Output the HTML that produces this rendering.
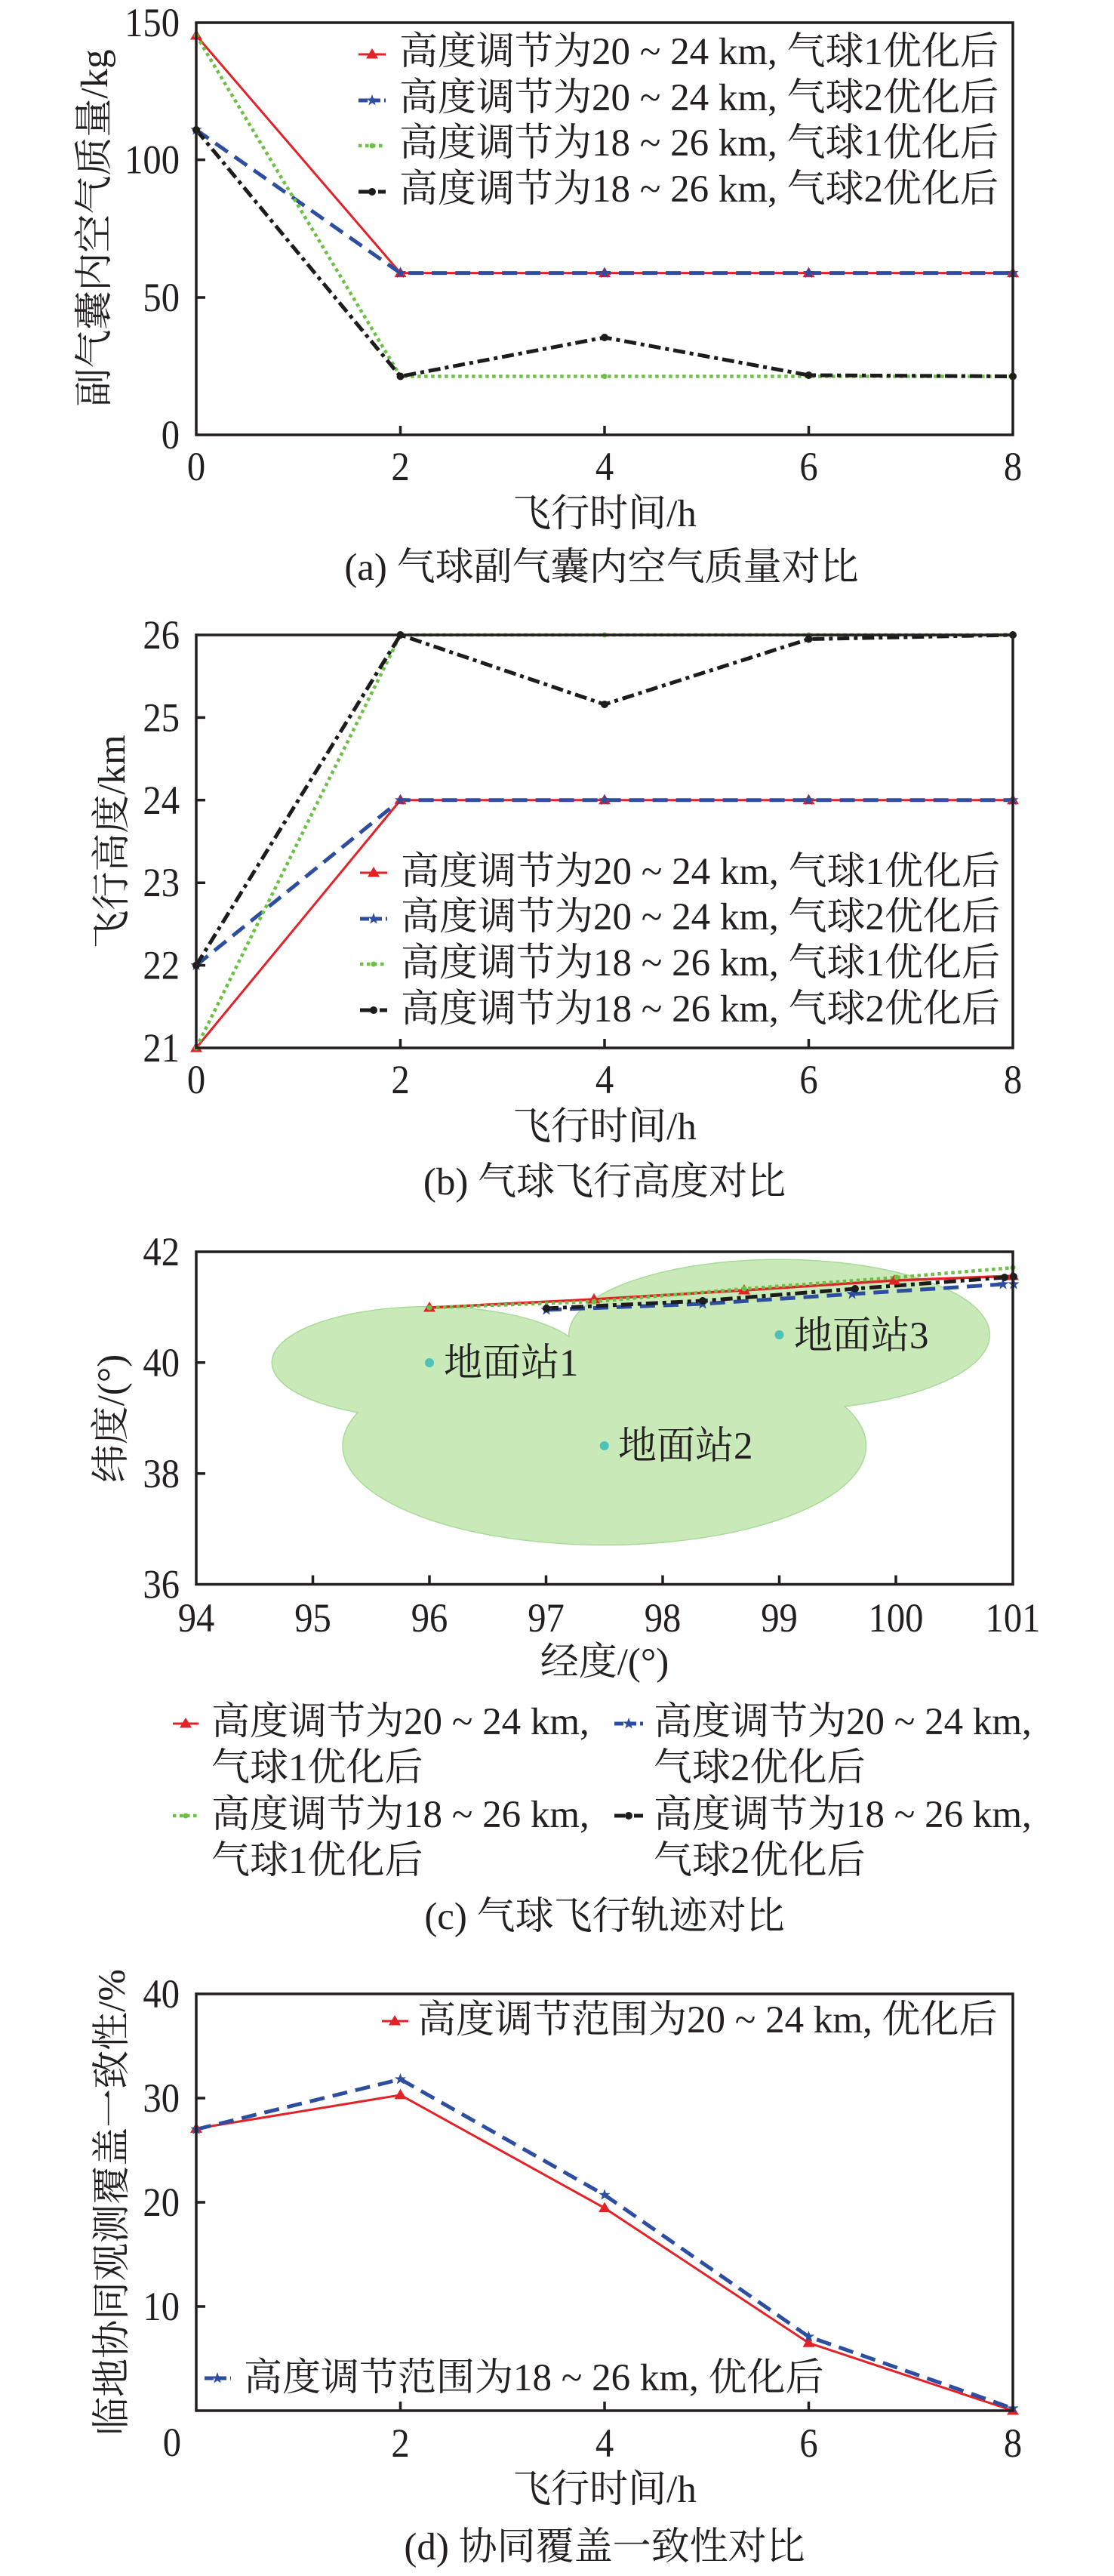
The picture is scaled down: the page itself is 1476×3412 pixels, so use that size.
<!DOCTYPE html>
<html><head><meta charset="utf-8">
<style>
html,body{margin:0;padding:0;background:#fff;}
svg{display:block;}
text{font-family:"Liberation Serif","Noto Serif CJK SC",serif;font-size:51px;fill:#231f20;}
.tk{font-size:54px;}
</style></head>
<body>
<svg width="1476" height="3412" viewBox="0 0 1476 3412" xmlns="http://www.w3.org/2000/svg">
<defs>
<polygon id="tri" points="0,-8 8,5.5 -8,5.5" fill="#e32228"/>
<polygon id="star" points="0,-8 1.88,-2.59 7.61,-2.47 3.04,0.99 4.70,6.47 0,3.2 -4.70,6.47 -3.04,0.99 -7.61,-2.47 -1.88,-2.59" fill="#2d4da0"/>
<circle id="dot" r="5" fill="#1c1c1c"/>
<circle id="gdot" r="3.5" fill="#6dbf45"/>
</defs>

<!-- ================= (a) ================= -->
<g>
<polyline points="260,47 530.5,361.6 801,361.6 1071.5,361.6 1342,361.6" fill="none" stroke="#e32228" stroke-width="3"/>
<polyline points="260,172 530.5,361.6 801,361.6 1071.5,361.6 1342,361.6" fill="none" stroke="#2d4da0" stroke-width="5" stroke-dasharray="20 11"/>
<polyline points="260,47 530.5,498.5 801,498.5 1071.5,498.5 1342,498.5" fill="none" stroke="#6dbf45" stroke-width="4.5" stroke-dasharray="4.5 4.5"/>
<polyline points="260,172 530.5,498.5 801,447 1071.5,497 1342,498.5" fill="none" stroke="#1c1c1c" stroke-width="5" stroke-dasharray="16 6 5 6"/>
<use href="#tri" x="260" y="47"/><use href="#tri" x="530.5" y="361.6"/><use href="#tri" x="801" y="361.6"/><use href="#tri" x="1071.5" y="361.6"/><use href="#tri" x="1342" y="361.6"/>
<use href="#star" x="260" y="172"/><use href="#star" x="530.5" y="361.6"/><use href="#star" x="801" y="361.6"/><use href="#star" x="1071.5" y="361.6"/><use href="#star" x="1342" y="361.6"/>
<use href="#gdot" x="260" y="47"/><use href="#gdot" x="530.5" y="498.5"/><use href="#gdot" x="801" y="498.5"/><use href="#gdot" x="1071.5" y="498.5"/><use href="#gdot" x="1342" y="498.5"/>
<use href="#dot" x="260" y="172"/><use href="#dot" x="530.5" y="498.5"/><use href="#dot" x="801" y="447"/><use href="#dot" x="1071.5" y="497"/><use href="#dot" x="1342" y="498.5"/>
<rect x="260" y="30" width="1082" height="546" fill="none" stroke="#231f20" stroke-width="3.5"/>
<path d="M260,211.6h12M260,394h12M530.5,576v-12M801,576v-12M1071.5,576v-12" stroke="#231f20" stroke-width="3.5"/>
<g text-anchor="end">
<text class="tk" transform="translate(238,48) scale(0.9,1)">150</text>
<text class="tk" transform="translate(238,229.6) scale(0.9,1)">100</text>
<text class="tk" transform="translate(238,412) scale(0.9,1)">50</text>
<text class="tk" transform="translate(238,594) scale(0.9,1)">0</text>
</g>
<g text-anchor="middle">
<text class="tk" transform="translate(260,636) scale(0.9,1)">0</text>
<text class="tk" transform="translate(530.5,636) scale(0.9,1)">2</text>
<text class="tk" transform="translate(801,636) scale(0.9,1)">4</text>
<text class="tk" transform="translate(1071.5,636) scale(0.9,1)">6</text>
<text class="tk" transform="translate(1342,636) scale(0.9,1)">8</text>
<text x="801" y="697">飞行时间/h</text>
<text x="797" y="768">(a) 气球副气囊内空气质量对比</text>
<text transform="translate(142,302) rotate(-90)">副气囊内空气质量/kg</text>
</g>
<!-- legend -->
<line x1="475" y1="72" x2="511" y2="72" stroke="#e32228" stroke-width="3"/><use href="#tri" x="493" y="72"/>
<line x1="475" y1="133" x2="511" y2="133" stroke="#2d4da0" stroke-width="5" stroke-dasharray="12 5"/><use href="#star" x="493" y="133"/>
<line x1="475" y1="193" x2="511" y2="193" stroke="#6dbf45" stroke-width="4.5" stroke-dasharray="4.5 4.5"/><use href="#gdot" x="493" y="193"/>
<line x1="475" y1="254" x2="511" y2="254" stroke="#1c1c1c" stroke-width="5" stroke-dasharray="14 4 4 4"/><use href="#dot" x="493" y="254"/>
<text x="529" y="85">高度调节为20 ~ 24 km, 气球1优化后</text>
<text x="529" y="146">高度调节为20 ~ 24 km, 气球2优化后</text>
<text x="529" y="206">高度调节为18 ~ 26 km, 气球1优化后</text>
<text x="529" y="267">高度调节为18 ~ 26 km, 气球2优化后</text>
</g>

<!-- ================= (b) ================= -->
<g>
<polyline points="260,1388 530.5,1059.8 801,1059.8 1071.5,1059.8 1342,1059.8" fill="none" stroke="#e32228" stroke-width="3"/>
<polyline points="260,1278.6 530.5,1059.8 801,1059.8 1071.5,1059.8 1342,1059.8" fill="none" stroke="#2d4da0" stroke-width="5" stroke-dasharray="20 11"/>
<polyline points="260,1388 530.5,841 801,841 1071.5,841 1342,841" fill="none" stroke="#6dbf45" stroke-width="4.5" stroke-dasharray="4.5 4.5"/>
<polyline points="260,1278.6 530.5,841 801,933 1071.5,846.5 1342,841" fill="none" stroke="#1c1c1c" stroke-width="5" stroke-dasharray="16 6 5 6"/>
<use href="#tri" x="260" y="1388"/><use href="#tri" x="530.5" y="1059.8"/><use href="#tri" x="801" y="1059.8"/><use href="#tri" x="1071.5" y="1059.8"/><use href="#tri" x="1342" y="1059.8"/>
<use href="#star" x="260" y="1278.6"/><use href="#star" x="530.5" y="1059.8"/><use href="#star" x="801" y="1059.8"/><use href="#star" x="1071.5" y="1059.8"/><use href="#star" x="1342" y="1059.8"/>
<use href="#gdot" x="260" y="1388"/><use href="#gdot" x="530.5" y="841"/><use href="#gdot" x="801" y="841"/><use href="#gdot" x="1071.5" y="841"/><use href="#gdot" x="1342" y="841"/>
<use href="#dot" x="260" y="1278.6"/><use href="#dot" x="530.5" y="841"/><use href="#dot" x="801" y="933"/><use href="#dot" x="1071.5" y="846.5"/><use href="#dot" x="1342" y="841"/>
<rect x="260" y="841" width="1082" height="547" fill="none" stroke="#231f20" stroke-width="3.5"/>
<path d="M260,1278.6h12M260,1169.2h12M260,1059.8h12M260,950.4h12M530.5,1388v-12M801,1388v-12M1071.5,1388v-12" stroke="#231f20" stroke-width="3.5"/>
<g text-anchor="end">
<text class="tk" transform="translate(238,859) scale(0.9,1)">26</text>
<text class="tk" transform="translate(238,968.4) scale(0.9,1)">25</text>
<text class="tk" transform="translate(238,1077.8) scale(0.9,1)">24</text>
<text class="tk" transform="translate(238,1187.2) scale(0.9,1)">23</text>
<text class="tk" transform="translate(238,1296.6) scale(0.9,1)">22</text>
<text class="tk" transform="translate(238,1406) scale(0.9,1)">21</text>
</g>
<g text-anchor="middle">
<text class="tk" transform="translate(260,1448) scale(0.9,1)">0</text>
<text class="tk" transform="translate(530.5,1448) scale(0.9,1)">2</text>
<text class="tk" transform="translate(801,1448) scale(0.9,1)">4</text>
<text class="tk" transform="translate(1071.5,1448) scale(0.9,1)">6</text>
<text class="tk" transform="translate(1342,1448) scale(0.9,1)">8</text>
<text x="801" y="1509">飞行时间/h</text>
<text x="801" y="1582">(b) 气球飞行高度对比</text>
<text transform="translate(165,1115) rotate(-90)">飞行高度/km</text>
</g>
<line x1="477" y1="1156" x2="513" y2="1156" stroke="#e32228" stroke-width="3"/><use href="#tri" x="495" y="1156"/>
<line x1="477" y1="1217" x2="513" y2="1217" stroke="#2d4da0" stroke-width="5" stroke-dasharray="12 5"/><use href="#star" x="495" y="1217"/>
<line x1="477" y1="1277" x2="513" y2="1277" stroke="#6dbf45" stroke-width="4.5" stroke-dasharray="4.5 4.5"/><use href="#gdot" x="495" y="1277"/>
<line x1="477" y1="1338" x2="513" y2="1338" stroke="#1c1c1c" stroke-width="5" stroke-dasharray="14 4 4 4"/><use href="#dot" x="495" y="1338"/>
<text x="531" y="1171">高度调节为20 ~ 24 km, 气球1优化后</text>
<text x="531" y="1231">高度调节为20 ~ 24 km, 气球2优化后</text>
<text x="531" y="1292">高度调节为18 ~ 26 km, 气球1优化后</text>
<text x="531" y="1353">高度调节为18 ~ 26 km, 气球2优化后</text>
</g>

<!-- ================= (c) ================= -->
<g>
<g stroke="#a8db98" stroke-width="3" fill="none">
<ellipse cx="569" cy="1804.8" rx="208" ry="73.4"/>
<ellipse cx="800.75" cy="1915" rx="346" ry="130.6"/>
<ellipse cx="1032.5" cy="1768" rx="278" ry="99"/>
</g>
<g fill="#c9e9b9">
<ellipse cx="569" cy="1804.8" rx="208" ry="73.4"/>
<ellipse cx="800.75" cy="1915" rx="346" ry="130.6"/>
<ellipse cx="1032.5" cy="1768" rx="278" ry="99"/>
</g>
<circle cx="569" cy="1805" r="6" fill="#4ec2b8"/>
<circle cx="800.75" cy="1915" r="6" fill="#4ec2b8"/>
<circle cx="1032.5" cy="1768" r="6" fill="#4ec2b8"/>
<text x="588" y="1822">地面站1</text>
<text x="819" y="1932">地面站2</text>
<text x="1052" y="1786">地面站3</text>
<polyline points="569,1732 787,1721 986,1709 1185,1696 1342,1690" fill="none" stroke="#e32228" stroke-width="3.5"/>
<polyline points="724,1735 931,1727 1129,1714 1329,1701 1343,1701" fill="none" stroke="#2d4da0" stroke-width="5" stroke-dasharray="20 11"/>
<polyline points="569,1732 787,1724 986,1707 1188,1692 1342,1679" fill="none" stroke="#6dbf45" stroke-width="4.5" stroke-dasharray="4.5 4.5"/>
<polyline points="724,1733 931,1723 1133,1707 1331,1692 1343,1691" fill="none" stroke="#1c1c1c" stroke-width="5" stroke-dasharray="16 6 5 6"/>
<use href="#tri" x="569" y="1732"/><use href="#tri" x="787" y="1721"/><use href="#tri" x="986" y="1709"/><use href="#tri" x="1185" y="1696"/><use href="#tri" x="1342" y="1690"/>
<use href="#star" x="724" y="1735"/><use href="#star" x="931" y="1727"/><use href="#star" x="1129" y="1714"/><use href="#star" x="1329" y="1701"/><use href="#star" x="1343" y="1701"/>
<use href="#gdot" x="569" y="1732"/><use href="#gdot" x="787" y="1724"/><use href="#gdot" x="986" y="1707"/><use href="#gdot" x="1188" y="1692"/><use href="#gdot" x="1342" y="1679"/>
<use href="#dot" x="724" y="1733"/><use href="#dot" x="931" y="1723"/><use href="#dot" x="1133" y="1707"/><use href="#dot" x="1331" y="1692"/><use href="#dot" x="1343" y="1691"/>
<rect x="260" y="1658" width="1082" height="440.5" fill="none" stroke="#231f20" stroke-width="3.5"/>
<path d="M260,1951.7h12M260,1804.8h12M414.5,2098.5v-12M569,2098.5v-12M723.5,2098.5v-12M878,2098.5v-12M1032.5,2098.5v-12M1187,2098.5v-12" stroke="#231f20" stroke-width="3.5"/>
<g text-anchor="end">
<text class="tk" transform="translate(238,1676) scale(0.9,1)">42</text>
<text class="tk" transform="translate(238,1823) scale(0.9,1)">40</text>
<text class="tk" transform="translate(238,1970) scale(0.9,1)">38</text>
<text class="tk" transform="translate(238,2116.5) scale(0.9,1)">36</text>
</g>
<g text-anchor="middle">
<text class="tk" transform="translate(260,2161) scale(0.9,1)">94</text>
<text class="tk" transform="translate(414.5,2161) scale(0.9,1)">95</text>
<text class="tk" transform="translate(569,2161) scale(0.9,1)">96</text>
<text class="tk" transform="translate(723.5,2161) scale(0.9,1)">97</text>
<text class="tk" transform="translate(878,2161) scale(0.9,1)">98</text>
<text class="tk" transform="translate(1032.5,2161) scale(0.9,1)">99</text>
<text class="tk" transform="translate(1187,2161) scale(0.9,1)">100</text>
<text class="tk" transform="translate(1342,2161) scale(0.9,1)">101</text>
<text x="801" y="2218">经度/(°)</text>
<text x="801" y="2555">(c) 气球飞行轨迹对比</text>
<text transform="translate(164,1879) rotate(-90)">纬度/(°)</text>
</g>
<line x1="229" y1="2283" x2="263" y2="2283" stroke="#e32228" stroke-width="3"/><use href="#tri" x="246" y="2283"/>
<line x1="814" y1="2283" x2="852" y2="2283" stroke="#2d4da0" stroke-width="5" stroke-dasharray="12 5"/><use href="#star" x="833" y="2283"/>
<line x1="229" y1="2405" x2="263" y2="2405" stroke="#6dbf45" stroke-width="4.5" stroke-dasharray="4.5 4.5"/><use href="#gdot" x="246" y="2405"/>
<line x1="814" y1="2405" x2="852" y2="2405" stroke="#1c1c1c" stroke-width="5" stroke-dasharray="14 4 4 4"/><use href="#dot" x="833" y="2405"/>
<text x="280" y="2297">高度调节为20 ~ 24 km,</text>
<text x="280" y="2358">气球1优化后</text>
<text x="866" y="2297">高度调节为20 ~ 24 km,</text>
<text x="866" y="2358">气球2优化后</text>
<text x="280" y="2420">高度调节为18 ~ 26 km,</text>
<text x="280" y="2481">气球1优化后</text>
<text x="866" y="2420">高度调节为18 ~ 26 km,</text>
<text x="866" y="2481">气球2优化后</text>
</g>

<!-- ================= (d) ================= -->
<g>
<polyline points="260,2819.4 530.5,2774.9 801,2924.6 1071.5,3103.3 1342,3193" fill="none" stroke="#e32228" stroke-width="3"/>
<polyline points="260,2820.4 530.5,2754 801,2907.3 1071.5,3095 1342,3190" fill="none" stroke="#2d4da0" stroke-width="5" stroke-dasharray="20 11"/>
<use href="#tri" x="260" y="2819.4"/><use href="#tri" x="530.5" y="2774.9"/><use href="#tri" x="801" y="2924.6"/><use href="#tri" x="1071.5" y="3103.3"/><use href="#tri" x="1342" y="3193"/>
<use href="#star" x="260" y="2820.4"/><use href="#star" x="530.5" y="2754"/><use href="#star" x="801" y="2907.3"/><use href="#star" x="1071.5" y="3095"/><use href="#star" x="1342" y="3190"/>
<rect x="260" y="2641" width="1082" height="552" fill="none" stroke="#231f20" stroke-width="3.5"/>
<path d="M260,3055h12M260,2917h12M260,2779h12M530.5,3193v-12M801,3193v-12M1071.5,3193v-12" stroke="#231f20" stroke-width="3.5"/>
<g text-anchor="end">
<text class="tk" transform="translate(238,2659) scale(0.9,1)">40</text>
<text class="tk" transform="translate(238,2797) scale(0.9,1)">30</text>
<text class="tk" transform="translate(238,2935) scale(0.9,1)">20</text>
<text class="tk" transform="translate(238,3073) scale(0.9,1)">10</text>
<text class="tk" transform="translate(240,3253) scale(0.9,1)">0</text>
</g>
<g text-anchor="middle">
<text class="tk" transform="translate(530.5,3254) scale(0.9,1)">2</text>
<text class="tk" transform="translate(801,3254) scale(0.9,1)">4</text>
<text class="tk" transform="translate(1071.5,3254) scale(0.9,1)">6</text>
<text class="tk" transform="translate(1342,3254) scale(0.9,1)">8</text>
<text x="801" y="3314">飞行时间/h</text>
<text x="801" y="3390">(d) 协同覆盖一致性对比</text>
<text transform="translate(165,2917) rotate(-90)">临地协同观测覆盖一致性/%</text>
</g>
<line x1="506" y1="2677" x2="541" y2="2677" stroke="#e32228" stroke-width="3"/><use href="#tri" x="523" y="2677"/>
<text x="553" y="2692">高度调节范围为20 ~ 24 km, 优化后</text>
<line x1="271" y1="3150" x2="306" y2="3150" stroke="#2d4da0" stroke-width="5" stroke-dasharray="12 5"/><use href="#star" x="288" y="3150"/>
<text x="323" y="3166">高度调节范围为18 ~ 26 km, 优化后</text>
</g>
</svg>
</body></html>
